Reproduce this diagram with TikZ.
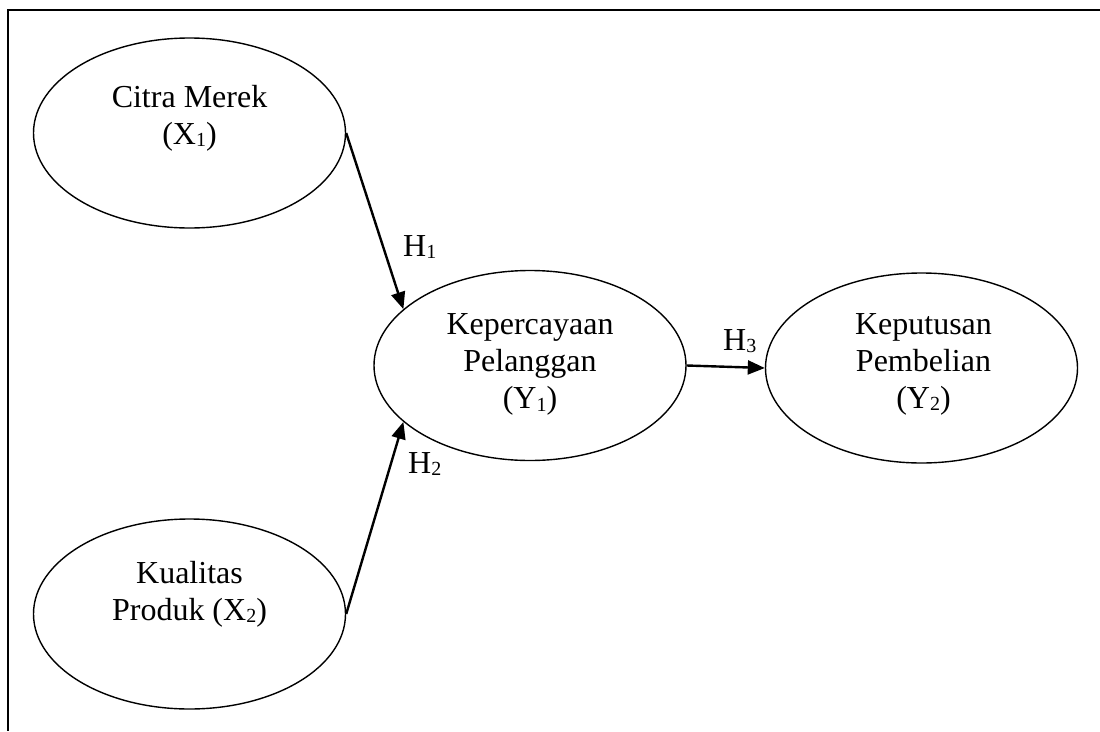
\documentclass[tikz,border=0pt]{standalone}
\usepackage{fontspec}
\setmainfont{Liberation Serif}
\usetikzlibrary{shapes.geometric,arrows.meta}
\newcommand{\idx}[1]{\raisebox{-2.5pt}{\fontsize{20}{20}\selectfont #1}}
\tikzset{
    var-ellipse/.style = {draw, ellipse, line width=1.4pt, minimum width=312pt, minimum height=190pt, inner sep=0pt},
    var-text/.style = {align=center, inner sep=0pt, font=\fontsize{32}{37}\selectfont},
    hyp-arrow/.style = {line width=2.4pt, -{Triangle[length=17pt,width=14pt]}},
    hyp-label/.style = {inner sep=0pt, anchor=base west, font=\fontsize{32}{37}\selectfont},
    frame-line/.style = {line width=1.5pt},
}

\begin{document}
\begin{tikzpicture}[x=1pt, y=-1pt]
\useasboundingbox (0,0) rectangle (1100,731);
\draw[frame-line] (1100,10) -- (8,10) -- (8,731);

% variables
\node[var-ellipse] (citra) at (189.5,133) {};
\node[var-ellipse] (kualitas) at (189.5,614) {};
\node[var-ellipse] (percaya) at (530,365.5) {};
\node[var-ellipse] (putusan) at (921.5,368) {};

\node[var-text] (citra-text) at ([yshift=15pt]citra.center) {Citra Merek\\(X\idx{1})};
\node[var-text] (kualitas-text) at ([yshift=20pt]kualitas.center) {Kualitas\\Produk (X\idx{2})};
\node[var-text] (percaya-text) at ([yshift=1pt]percaya.center) {Kepercayaan\\Pelanggan\\(Y\idx{1})};
\node[var-text] (putusan-text) at ([xshift=2pt,yshift=4pt]putusan.center) {Keputusan\\Pembelian\\(Y\idx{2})};

% hypotheses
\draw[hyp-arrow] (citra.east) -- (percaya.156);
\draw[hyp-arrow] (kualitas.east) -- (percaya.204);
\draw[hyp-arrow] (percaya.east) -- (putusan.west);

\node[hyp-label] (h1) at (403,256) {H\idx{1}};
\node[hyp-label] (h2) at (408,473) {H\idx{2}};
\node[hyp-label] (h3) at (723,350) {H\idx{3}};
\end{tikzpicture}
\end{document}
